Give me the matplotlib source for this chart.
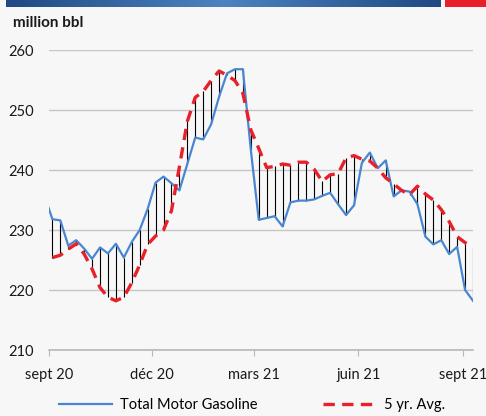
import matplotlib
matplotlib.use("Agg")
import matplotlib.pyplot as plt
import numpy as np
import pandas as pd

# weekly stocks, million bbl (first week Aug 28 2020, clipped by the axis)
dates = pd.date_range("2020-08-28", periods=55, freq="7D")
gasoline = [
    235.7, 231.8, 231.6, 227.4, 228.3, 226.9, 225.2, 227.1, 226.1, 227.7,
    225.4, 228.0, 230.0, 233.5, 237.9, 238.9, 237.8, 236.6, 241.0, 245.4,
    245.1, 247.6, 252.2, 256.1, 256.8, 256.8, 243.4, 231.7, 232.0, 232.3,
    230.6, 234.6, 234.9, 234.9, 235.1, 235.7, 236.2, 234.3, 232.5, 234.1,
    241.2, 242.9, 240.3, 241.6, 235.6, 236.6, 236.4, 234.3, 228.9, 227.6,
    228.3, 226.0, 227.2, 220.0, 218.2,
]
avg5 = [
    np.nan, 225.4, 225.8, 226.8, 227.7, 226.0, 223.5, 220.4, 218.8, 218.2,
    218.8, 221.2, 224.2, 227.6, 229.0, 230.0, 233.2, 240.5, 248.1, 252.1,
    253.1, 254.9, 256.5, 255.8, 254.9, 252.8, 246.7, 243.6, 240.4, 240.6,
    241.0, 240.8, 241.3, 241.3, 240.1, 238.1, 239.2, 239.4, 242.0, 242.4,
    241.8, 241.5, 240.3, 238.7, 237.7, 236.6, 235.9, 237.3, 236.0, 235.0,
    233.4, 231.4, 228.9, 227.9, 227.2,
]
tick_dates = pd.to_datetime(["2020-09-01", "2020-12-01", "2021-03-01", "2021-06-01", "2021-09-01"])
tick_labels = ["sept 20", "déc 20", "mars 21", "juin 21", "sept 21"]
y_ticks = [210, 220, 230, 240, 250, 260]

bg = "#f7f7f7"
plt.rcParams["font.family"] = ["Lato", "DejaVu Sans"]

fig = plt.figure(figsize=(4.86, 4.16), dpi=100, facecolor=bg)

# top banner: blue gradient + red block
band = fig.add_axes([6 / 486, 1 - 7 / 416, 434 / 486, 7 / 416])
grad = 1 - np.abs(np.linspace(-1, 1, 256))
band.imshow(grad[np.newaxis, :], aspect="auto",
            cmap=matplotlib.colors.LinearSegmentedColormap.from_list("b", ["#1f4a82", "#4d82c0"]))
band.axis("off")
red = fig.add_axes([445 / 486, 1 - 7 / 416, 41 / 486, 7 / 416])
red.set_facecolor("#e8202a")
red.set_xticks([])
red.set_yticks([])
for s in red.spines.values():
    s.set_visible(False)

ax = fig.add_axes([49 / 486, 1 - 350 / 416, 424 / 486, 300 / 416])
ax.set_facecolor(bg)

gas = np.array(gasoline)
avg = np.array(avg5)
ok = ~np.isnan(avg)
# hi-low lines between the two series
ax.vlines(dates[ok], avg[ok], gas[ok], color="black", lw=0.8, zorder=2)
ax.plot(dates, gas, color="#4a86d0", lw=1.6, label="Total Motor Gasoline", zorder=3)
ax.plot(dates, avg, color="#e8202a", lw=2.4, dashes=(3.4, 2.2),
        label="5 yr. Avg.", zorder=4)

ax.set_ylim(210, 260)
ax.set_yticks(y_ticks)
ax.set_xlim(pd.Timestamp("2020-09-01"), dates[-1])
ax.set_xticks(tick_dates)
ax.set_xticklabels(tick_labels)
ax.grid(axis="y", color="#c6c6c6", lw=1)
ax.set_axisbelow(True)
for side in ["top", "right", "left"]:
    ax.spines[side].set_visible(False)
ax.spines["bottom"].set_color("#b8b8b8")
ax.spines["bottom"].set_linewidth(1.2)
ax.tick_params(axis="y", length=0, pad=11, labelsize=10.5, colors="#1a1a1a")
ax.tick_params(axis="x", length=4, color="#b8b8b8", pad=9, labelsize=10.5,
               labelcolor="#1a1a1a")

fig.text(13 / 486, 1 - 23 / 416, "million bbl", fontsize=11, fontweight="bold",
         va="center", ha="left", color="#1a1a1a")

fig.legend(loc="center", bbox_to_anchor=(252 / 486, 1 - 405 / 416), ncol=2,
           frameon=False, fontsize=10.5, handlelength=3.6, handletextpad=0.55,
           columnspacing=4.5)

fig.savefig("out.png", dpi=100, facecolor=bg)
